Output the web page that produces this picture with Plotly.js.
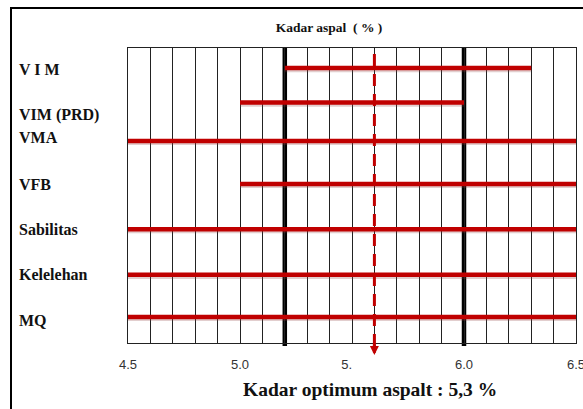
<!DOCTYPE html>
<html>
<head>
<meta charset="utf-8">
<script src="https://cdn.plot.ly/plotly-3.0.1.min.js"></script>
<style>html,body{margin:0;padding:0;background:#fff;}#chart{width:583px;height:409px;}</style>
</head>
<body>
<div id="chart"></div>
<script>
// ---- data ----
const criteria   = ['V I M', 'VIM (PRD)', 'VMA', 'VFB', 'Sabilitas', 'Kelelehan', 'MQ'];
const rangeStart = [5.2, 5.0, 4.5, 5.0, 4.5, 4.5, 4.5];
const rangeEnd   = [6.3, 6.0, 6.5, 6.5, 6.5, 6.5, 6.5];
const rowPos     = [0.68, 1.85, 3.15, 4.61, 6.14, 7.69, 9.12];   // row of each range line
const labelPos   = [0.72, 2.27, 3.04, 4.61, 6.14, 7.69, 9.25];   // row of each label
const limitLines = [5.2, 6.0];
const optimum    = 5.6;
const tickVals   = [4.5, 5.0, 5.5, 6.0, 6.5];
const tickText   = ['4.5', '5.0', '5.\u00a0\u00a0\u00a0', '6.0', '6.5'];

// ---- figure geometry ----
const W = 583, H = 409;
const px = v => v / W;
const py = v => 1 - v / H;
const RED = 'rgb(192,0,0)';

const shadows = criteria.map((c, i) => ({
  type: 'scatter', mode: 'lines', showlegend: false, hoverinfo: 'skip',
  x: [rangeStart[i], rangeEnd[i]],
  y: [rowPos[i] + 0.07, rowPos[i] + 0.07],
  line: {color: 'rgba(140,60,60,0.25)', width: 4}
}));
const traces = criteria.map((c, i) => ({
  type: 'scatter', mode: 'lines', name: c, showlegend: false, hoverinfo: 'skip',
  x: [rangeStart[i], rangeEnd[i]],
  y: [rowPos[i], rowPos[i]],
  line: {color: RED, width: 4.5}
}));

const shapes = [];
limitLines.forEach(v => shapes.push({
  type: 'line', xref: 'x', yref: 'paper', x0: v, x1: v, y0: py(346), y1: py(48),
  layer: 'below',
  line: {color: '#000', width: 4.5}
}));
shapes.push({
  type: 'line', xref: 'x', yref: 'paper', x0: optimum, x1: optimum, y0: py(346), y1: py(48),
  line: {color: RED, width: 3, dash: '12px,8px'}
});
shapes.push({
  type: 'rect', xref: 'paper', yref: 'paper', x0: px(11), x1: 1.2, y0: -0.2, y1: py(8),
  line: {color: '#000', width: 2}, fillcolor: 'rgba(0,0,0,0)'
});

const annotations = criteria.map((c, i) => ({
  xref: 'paper', yref: 'y', x: px(17), y: labelPos[i], xanchor: 'left', yanchor: 'middle',
  text: '<b>' + c + '</b>', showarrow: false,
  font: {family: 'Liberation Serif, Times New Roman, serif', size: 16, color: '#111'}
}));
annotations.push({
  xref: 'x', yref: 'paper', x: optimum, y: py(355), ax: 0, ay: -12, axref: 'pixel', ayref: 'pixel',
  text: '', showarrow: true, arrowhead: 2, arrowsize: 0.6, arrowwidth: 3, arrowcolor: RED
});
annotations.push({
  xref: 'paper', yref: 'paper', x: px(370), y: py(389), xanchor: 'center', yanchor: 'middle',
  text: '<b>Kadar optimum aspalt : 5,3 %</b>', showarrow: false,
  font: {family: 'Liberation Serif, Times New Roman, serif', size: 19.5, color: '#111'}
});

const layout = {
  width: W, height: H,
  margin: {l: 0, r: 0, t: 0, b: 0},
  paper_bgcolor: '#fff', plot_bgcolor: '#fff',
  showlegend: false,
  title: {
    text: '<b>Kadar aspal  ( % )</b>', xref: 'paper', yref: 'paper',
    x: px(329), y: py(27), xanchor: 'center', yanchor: 'middle',
    font: {family: 'Liberation Serif, Times New Roman, serif', size: 13.5, color: '#111'}
  },
  xaxis: {
    domain: [px(128), px(576)], range: [4.5, 6.5],
    tickmode: 'array', tickvals: tickVals, ticktext: tickText,
    ticks: 'outside', ticklen: 9, tickcolor: 'rgba(0,0,0,0)',
    ticklabeloverflow: 'allow',
    tickfont: {family: 'Liberation Sans, Arial, sans-serif', size: 13, color: '#333'},
    showgrid: true, gridcolor: '#222', gridwidth: 1,
    minor: {tickmode: 'linear', tick0: 4.5, dtick: 0.1, showgrid: true, gridcolor: '#222', gridwidth: 1, ticks: ''},
    showline: true, mirror: true, linecolor: '#222', linewidth: 1,
    zeroline: false, fixedrange: true
  },
  yaxis: {
    domain: [py(343), py(48)], range: [10, 0],
    showticklabels: false, showgrid: false, zeroline: false, ticks: '',
    showline: true, mirror: true, linecolor: '#222', linewidth: 1, fixedrange: true
  },
  shapes: shapes,
  annotations: annotations
};

Plotly.newPlot('chart', shadows.concat(traces), layout, {staticPlot: true, displayModeBar: false});
</script>
</body>
</html>
